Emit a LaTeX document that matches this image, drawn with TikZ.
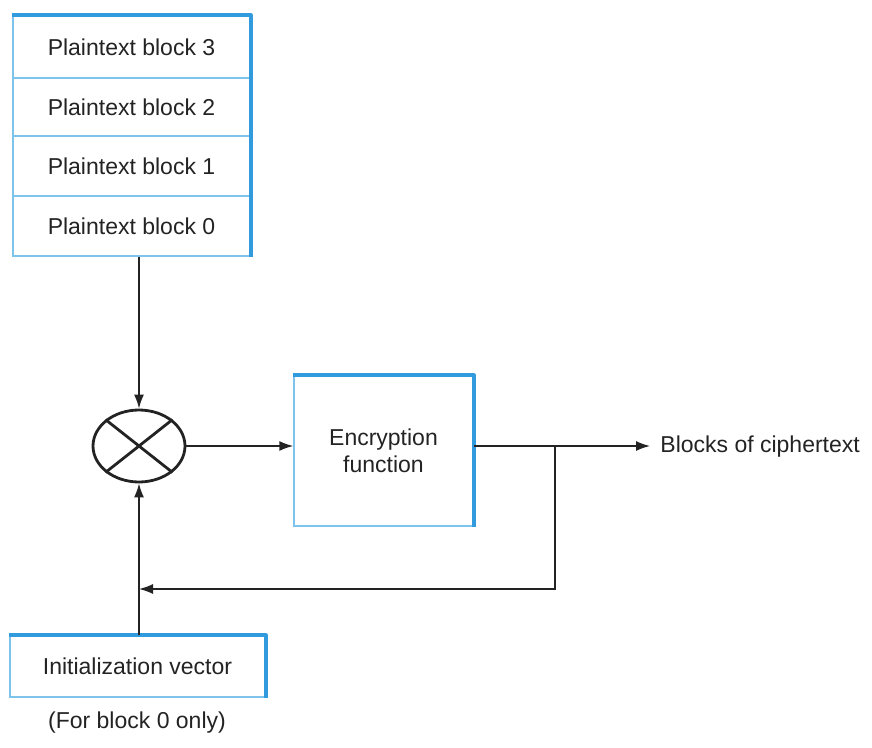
\documentclass[tikz,border=0pt]{standalone}
\usepackage{fontspec}
\setmainfont{Liberation Sans}
\usetikzlibrary{shapes.geometric,arrows.meta}
\definecolor{edgelight}{RGB}{125,195,235}
\definecolor{edgedark}{RGB}{50,155,222}
\definecolor{ink}{RGB}{35,35,35}
\begin{document}
\begin{tikzpicture}[x=0.5pt,y=-0.5pt,
  font=\fontsize{11.5}{13.5}\selectfont, text=ink,
  blockbox/.style={draw=edgelight, line width=0.7pt, inner sep=0pt, align=center},
  link/.style={draw=ink, line width=0.75pt},
  arr/.style={link, -{Latex[length=7pt,width=5pt]}}]
\useasboundingbox (0,0) rectangle (872,748);
% plaintext stack
\node[blockbox, minimum width=118.5pt, minimum height=31pt] (p3) at (131.5,47) {Plaintext block 3};
\node[blockbox, minimum width=118.5pt, minimum height=29pt] (p2) at (131.5,107) {Plaintext block 2};
\node[blockbox, minimum width=118.5pt, minimum height=30pt] (p1) at (131.5,166) {Plaintext block 1};
\node[blockbox, minimum width=118.5pt, minimum height=30pt] (p0) at (131.5,226) {Plaintext block 0};
\draw[edgedark, line width=2pt, line join=round] (p3.north west) -- (p3.north east) -- (p0.south east);
% combining element
\node[ellipse, draw=ink, line width=1.4pt, minimum width=46pt, minimum height=36pt, inner sep=0pt] (mix) at (139,446) {};
\draw[ink, line width=1.4pt] (mix.north west) -- (mix.south east);
\draw[ink, line width=1.4pt] (mix.north east) -- (mix.south west);
% encryption function
\node[blockbox, minimum width=89.5pt, minimum height=75pt] (enc) at (383.5,451) {Encryption\\function};
\draw[edgedark, line width=2pt, line join=round] (enc.north west) -- (enc.north east) -- (enc.south east);
% initialization vector
\node[blockbox, minimum width=127.5pt, minimum height=30.5pt] (iv) at (137.5,666.5) {Initialization vector};
\draw[edgedark, line width=2pt, line join=round] (iv.north west) -- (iv.north east) -- (iv.south east);
\node (ivnote) at (137,723) {(For block 0 only)};
% output
\node[anchor=west, inner sep=0pt] (out) at (660,447) {Blocks of ciphertext};
\coordinate (tap) at (555,446);
\coordinate (tapdown) at (555,589);
\coordinate (fb) at (139,589);
% connectors
\draw[arr] (p0.south -| mix) -- (mix.north);
\draw[arr] (mix.east) -- (enc.west |- mix);
\draw[arr] (enc.east |- tap) -- ([xshift=-5pt]out.west |- tap);
\draw[arr] (tap) -- (tapdown) -- (fb);
\draw[arr] (iv.north -| mix) -- (mix.south);
\end{tikzpicture}
\end{document}
